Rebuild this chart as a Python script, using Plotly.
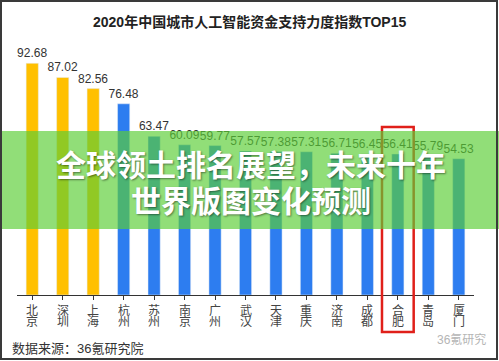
import plotly.graph_objects as go

cities = ["北京", "深圳", "上海", "杭州", "苏州", "南京", "广州", "武汉",
          "天津", "重庆", "济南", "成都", "合肥", "青岛", "厦门"]
values = [92.68, 87.02, 82.56, 76.48, 63.47, 60.09, 59.77, 57.57, 57.38, 57.31, 56.71, 56.45, 56.41, 55.79, 54.53]
top_n = 3
highlight = "合肥"
colors = ["#FFC000" if i < top_n else "#2D7DF0" for i in range(len(values))]

W, H = 499, 361
L, R, T, B = 17, 25, 45, 66
pw, ph = W - L - R, H - T - B

def px(x):
    return (x - L) / pw

def py(y):
    return (H - B - y) / ph

fig = go.Figure(go.Bar(
    x=list(range(len(values))), y=values, marker_color=colors, width=0.4,
    text=[f"{v:.2f}" for v in values], textposition="outside", constraintext="none",
    textfont=dict(size=12, color="#333333", family="Liberation Sans, Arial"),
    cliponaxis=False, hoverinfo="skip"))

fig.update_layout(
    width=W, height=H, margin=dict(l=L, r=R, t=T, b=B),
    paper_bgcolor="white", plot_bgcolor="white", showlegend=False,
    font=dict(family="Liberation Sans, Noto Sans CJK SC", color="#333333"),
    xaxis=dict(tickmode="array", tickvals=list(range(len(values))), showticklabels=False,
               range=[-0.5, len(values) - 0.5], showgrid=False, showline=True,
               linecolor="#333333", linewidth=1, ticks="outside", ticklen=4,
               tickcolor="#333333", tickson="boundaries"),
    yaxis=dict(range=[0, 100], visible=False, showgrid=False),
)

shapes = []
hi = cities.index(highlight)
shapes.append(dict(type="rect", xref="x", yref="paper", x0=hi - 0.52, x1=hi + 0.52,
                   y0=py(332), y1=py(127), line=dict(color="#E0201A", width=2.5),
                   fillcolor="rgba(0,0,0,0)", layer="above"))
shapes.append(dict(type="rect", xref="paper", yref="paper", x0=px(0), x1=px(W),
                   y0=py(229), y1=py(131), line=dict(width=0),
                   fillcolor="rgba(91,206,54,0.67)", layer="above"))
shapes.append(dict(type="rect", xref="paper", yref="paper", x0=px(1), x1=px(W - 2),
                   y0=py(H - 2), y1=py(1), line=dict(color="#3a3a3a", width=2),
                   fillcolor="rgba(0,0,0,0)", layer="above"))
fig.update_layout(shapes=shapes)

ann = [
    dict(text="<b>2020年中国城市人工智能资金支持力度指数TOP15</b>", x=px(250), y=py(22),
         font=dict(size=14, color="#222222", family="Liberation Sans, Noto Sans CJK SC")),
    dict(text="<b>全球领土排名展望，未来十年</b>", x=px(251), y=py(163),
         font=dict(size=30, color="white", family="Noto Sans CJK SC",
                   shadow="1px 1px 2px rgba(0,0,0,0.45)")),
    dict(text="<b>世界版图变化预测</b>", x=px(251), y=py(199),
         font=dict(size=30, color="white", family="Noto Sans CJK SC",
                   shadow="1px 1px 2px rgba(0,0,0,0.45)")),
    dict(text="数据来源：36氪研究院", x=px(10), y=py(348), xanchor="left",
         font=dict(size=13, color="#333333", family="Liberation Sans, Noto Sans CJK SC")),
    dict(text="36氪研究", x=px(461), y=py(339),
         font=dict(size=12, color="#b5b5b5", family="Liberation Sans, Noto Sans CJK SC")),
]
for a in ann:
    a.setdefault("xanchor", "center")
    a.update(xref="paper", yref="paper", yanchor="middle", showarrow=False)

for i, name in enumerate(cities):
    for k, ch in enumerate(name):
        ann.append(dict(text=ch, x=i, y=py(309 + 11 * k), xref="x", yref="paper",
                        xanchor="center", yanchor="middle", showarrow=False,
                        font=dict(size=12, color="#444444", family="Noto Sans CJK SC")))
fig.update_layout(annotations=ann)

fig.write_html("out.html", config={"displayModeBar": False},
               post_script="document.body.style.margin='0';")
